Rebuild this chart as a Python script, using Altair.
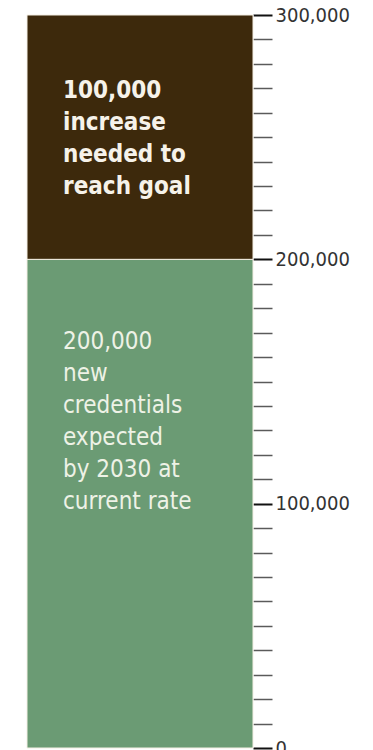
import altair as alt
import pandas as pd

# ---- data ----
categories = ["Credentials", "Credentials"]
segments = ["current", "needed"]
values = [200000, 100000]
stack_order = [0, 1]
label_lines = [
    ["200,000", "new", "credentials", "expected", "by 2030 at", "current rate"],
    ["100,000", "increase", "needed to", "reach goal"],
]
tick_values = list(range(0, 300001, 10000))
y_domain = [0, 300000]

colors = ["#6b9b74", "#3d290c"]
FONT = "DejaVu Sans Condensed, DejaVu Sans, sans-serif"

df = pd.DataFrame({
    "bar": categories,
    "segment": segments,
    "value": values,
    "order": stack_order,
    "label": ["\n".join(l) for l in label_lines],
})

x_enc = alt.X("bar:N", axis=None, scale=alt.Scale(paddingInner=0, paddingOuter=0))

major_test = "datum.value % 100000 === 0"

bars = alt.Chart(df).mark_bar(stroke="#f4efe4", strokeWidth=1).encode(
    x=x_enc,
    y=alt.Y(
        "value:Q",
        stack="zero",
        scale=alt.Scale(domain=y_domain, nice=False),
        axis=alt.Axis(
            orient="right",
            values=tick_values,
            tickCount=len(tick_values) + 5,
            labelExpr=f"{major_test} ? format(datum.value, ',') : ''",
            tickSize=19,
            tickColor={"condition": {"test": major_test, "value": "#111111"}, "value": "#5a5a5a"},
            tickWidth={"condition": {"test": major_test, "value": 2}, "value": 1.5},
            domain=False,
            grid=False,
            title=None,
            labelFont=FONT,
            labelFontSize=20,
            labelColor="#333333",
            labelPadding=3,
            labelOverlap=False,
            labelFlush=False,
            labelBound=False,
        ),
    ),
    color=alt.Color("segment:N", scale=alt.Scale(domain=segments, range=colors), legend=None),
    order=alt.Order("order:Q"),
)

base_text = alt.Chart(df).transform_stack(
    stack="value", groupby=["bar"], as_=["y0", "y1"], sort=[alt.SortField("order")]
)

text_needed = base_text.transform_filter(alt.datum.segment == "needed").mark_text(
    align="left", baseline="top", dx=-77, dy=64, lineBreak="\n", lineHeight=32,
    font=FONT, fontSize=24, fontWeight="bold", color="#f6f2ea",
).encode(x=x_enc, y=alt.Y("y1:Q"), text="label:N")

text_current = base_text.transform_filter(alt.datum.segment == "current").mark_text(
    align="left", baseline="top", dx=-77, dy=71, lineBreak="\n", lineHeight=32,
    font=FONT, fontSize=24, color="#eef2e6",
).encode(x=x_enc, y=alt.Y("y1:Q"), text="label:N")

chart = alt.layer(bars, text_needed, text_current).properties(
    width=226,
    height=733,
    autosize="none",
    padding={"left": 27, "top": 15, "right": 120, "bottom": 2},
).configure_view(stroke=None)

chart.save("out.html", embed_options={"renderer": "svg", "actions": False})
